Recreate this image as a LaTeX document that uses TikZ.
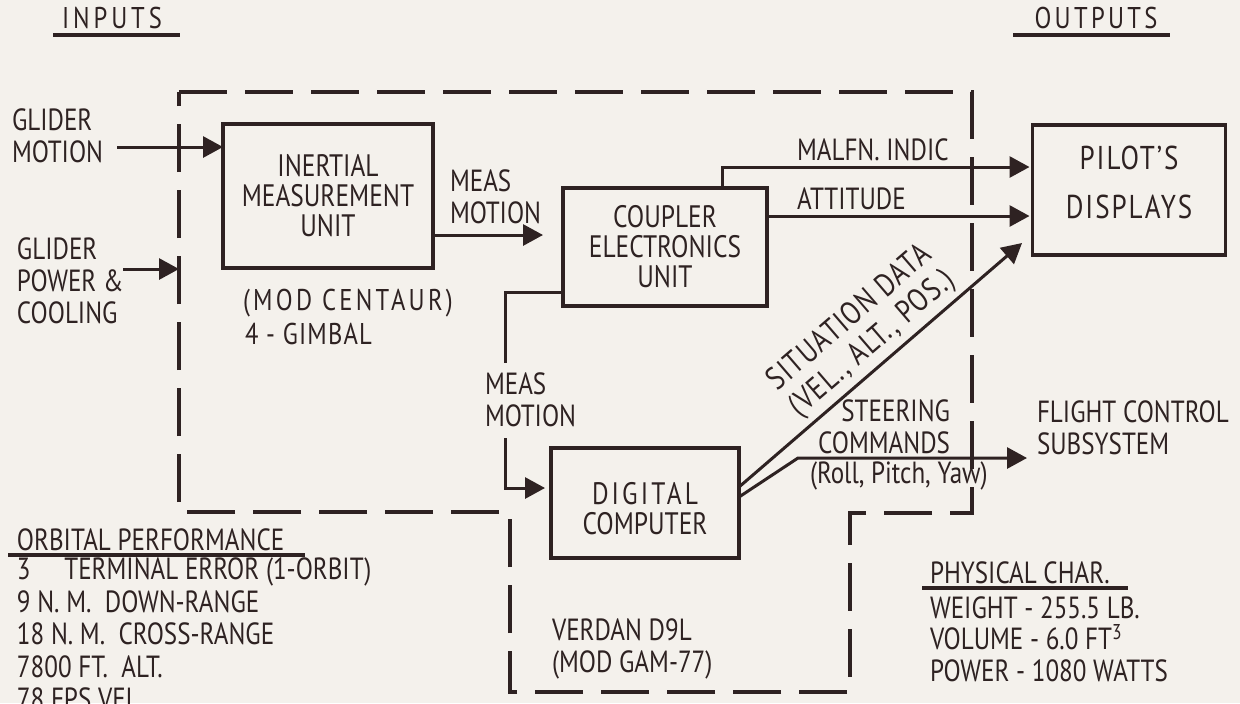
\documentclass[tikz,border=0pt]{standalone}
\usepackage{fontspec}
\setmainfont{PT Sans}[FakeStretch=0.82]
\usetikzlibrary{arrows.meta}
\definecolor{ink}{HTML}{2E2222}
\definecolor{paper}{HTML}{F4F1EC}
\begin{document}
\begin{tikzpicture}[x=0.5pt,y=-0.5pt,
  every node/.style={text=ink, inner sep=0pt, outer sep=0pt},
  lbl/.style={font=\fontsize{15.3}{16}\selectfont, align=left, anchor=west},
  spaced/.style={font=\fontsize{15}{16}\selectfont\addfontfeatures{LetterSpace=#1}},
  blk/.style={draw=ink, line width=1.6pt, align=center, font=\fontsize{15.5}{15}\selectfont},
  plain/.style={draw=ink, line width=1.5pt},
  conn/.style={draw=ink, line width=1.5pt, -{Triangle[length=10pt,width=10.5pt]}},
  bnd/.style={draw=ink, line width=1.6pt, dash pattern=on 24pt off 9pt},
  uline/.style={draw=ink, line width=1.8pt}]
\useasboundingbox (0,0) rectangle (1240,703);
\fill[paper] (0,0) rectangle (1240,703);
\clip (0,0) rectangle (1240,703);

% headings
\node[spaced=13] (inputs) at (112,18) {INPUTS};
\draw[uline] (53,35) -- (180,35);
\node[spaced=11] (outputs) at (1096,18) {OUTPUTS};
\draw[uline] (1013,35) -- (1170,35);

% system boundary
\draw[bnd] (179,92) -- (972,92) -- (972,513) -- (850,513) -- (850,692)
  -- (510,692) -- (510,512) -- (179,512) -- cycle;

% blocks
\node[blk, minimum width=105pt, minimum height=72pt] (imu) at (328,196)
  {INERTIAL\\MEASUREMENT\\UNIT};
\node[blk, minimum width=102pt, minimum height=59pt] (ceu) at (665,247)
  {COUPLER\\ELECTRONICS\\UNIT};
\node[blk, minimum width=96.5pt, minimum height=65pt, text depth=8pt,
  font=\fontsize{16.5}{24.5}\selectfont\addfontfeatures{LetterSpace=6}] (pilot) at (1129,190)
  {PILOT'S\\DISPLAYS};
\node[blk, minimum width=94pt, minimum height=55pt, text height=32pt] (dc) at (645,503)
  {{\addfontfeatures{LetterSpace=10}DIGITAL}\\COMPUTER};

% input labels
\node[lbl] (gmlbl) at (12,136) {GLIDER\\MOTION};
\node[lbl] (gplbl) at (17,281) {GLIDER\\POWER \&\\COOLING};
\node[spaced=11, anchor=west] (cent) at (243,303) {(MOD CENTAUR)};
\node[spaced=4, anchor=west] (gimb) at (245,334) {4 - GIMBAL};

% inputs
\coordinate (gmS) at (117,147);
\draw[conn] (gmS) -- (gmS -| imu.west);
\coordinate (gpS) at (123,269);
\coordinate (gpE) at (179,269);
\draw[conn] (gpS) -- (gpE);

% meas motion 1
\node[lbl] (mm1lbl) at (450,197) {MEAS\\MOTION};
\coordinate (mm1E) at (543,235);
\draw[conn] (mm1E -| imu.east) -- (mm1E);

% malfn indic / attitude
\coordinate (malfK) at (722,167);
\draw[conn, shorten >=1.5pt] (malfK |- ceu.north) -- (malfK) -- (malfK -| pilot.west);
\node[lbl] (malflbl) at (797,150) {MALFN. INDIC};
\coordinate (attY) at (0,216);
\draw[conn, shorten >=1.5pt] (ceu.east |- attY) -- (pilot.west |- attY);
\node[lbl] (attlbl) at (797,199) {ATTITUDE};

% meas motion 2
\coordinate (mm2A) at (505,292);
\coordinate (mm2B) at (505,363);
\coordinate (mm2C) at (505,438);
\coordinate (mm2D) at (505,488);
\draw[plain] (ceu.west |- mm2A) -- (mm2A) -- (mm2B);
\node[lbl] (mm2lbl) at (485,400) {MEAS\\MOTION};
\draw[conn, shorten >=3pt] (mm2C) -- (mm2D) -- (mm2D -| dc.west);

% situation data
\path (dc.east) ++(0,-16) coordinate (sdS);
\coordinate (sdE) at (1022,243);
\draw[conn] (sdS) -- node[sloped, above=3pt, pos=0.52, align=center,
  font=\fontsize{16}{17}\selectfont\addfontfeatures{LetterSpace=4}] (sdlbl)
  {SITUATION DATA\\(VEL., ALT., POS.)} (sdE);

% steering commands
\path (dc.east) ++(0,-6) coordinate (stS);
\coordinate (stK) at (798,458);
\coordinate (stE) at (1027,458);
\draw[conn] (stS) -- (stK) -- (stE);
\node[lbl, align=right, anchor=east] (stlbl) at (950,427) {STEERING\\COMMANDS};
\node[lbl] (rpy) at (810,476) {(Roll, Pitch, Yaw)};
\node[lbl] (fcs) at (1037,428) {FLIGHT CONTROL\\SUBSYSTEM};

% computer type
\node[lbl] (verd) at (552,649) {VERDAN D9L\\(MOD GAM-77)};

% orbital performance
\node[lbl] (orbh) at (17,540) {ORBITAL PERFORMANCE};
\draw[uline] (8,555) -- (305,555);
\node[lbl, font=\fontsize{15.3}{16.2}\selectfont] (orbl) at (17,634)
  {3\hspace{1.1em}TERMINAL ERROR (1-ORBIT)\\9 N. M.\ \ DOWN-RANGE\\18 N. M.\ \ CROSS-RANGE\\7800 FT.\ \ ALT.\\78 FPS VEL};

% physical characteristics
\node[lbl] (phyh) at (930,573) {PHYSICAL CHAR.};
\draw[uline] (922,588) -- (1128,588);
\node[lbl, font=\fontsize{15.3}{15.8}\selectfont] (phyl) at (930,639)
  {WEIGHT - 255.5 LB.\\VOLUME - 6.0 FT\textsuperscript{3}\\POWER - 1080 WATTS};
\end{tikzpicture}
\end{document}
